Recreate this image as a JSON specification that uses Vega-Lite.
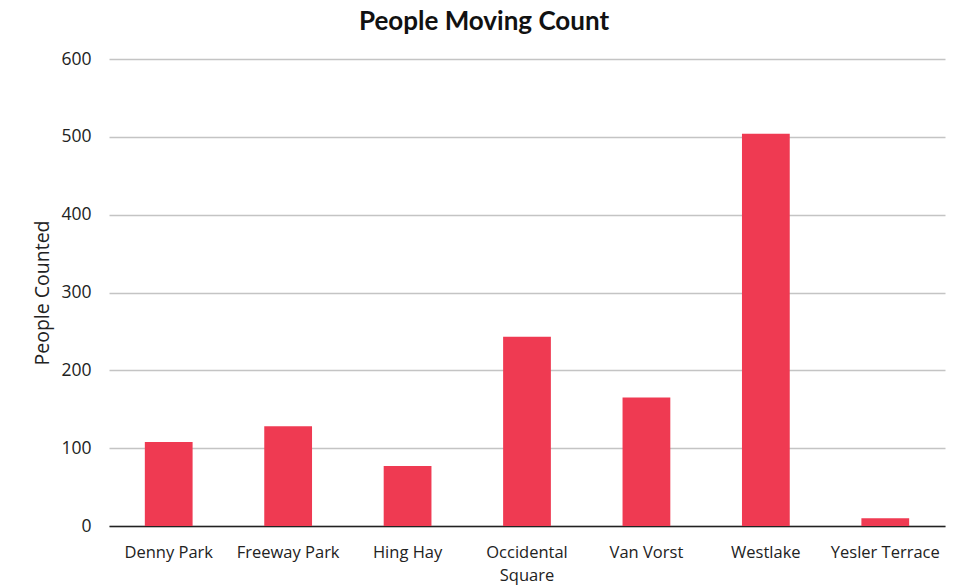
{
  "$schema": "https://vega.github.io/schema/vega-lite/v6.json",
  "width": 836,
  "height": 467,
  "autosize": {"type": "none"},
  "padding": {"left": 109, "top": 59, "right": 13, "bottom": 59},
  "background": "white",
  "title": {
    "text": "People Moving Count",
    "font": "Lato",
    "fontSize": 26,
    "fontWeight": "bold",
    "color": "#111111",
    "anchor": "middle",
    "dx": -43,
    "offset": 15
  },
  "data": {
    "values": [
      {"location": "Denny Park", "count": 108},
      {"location": "Freeway Park", "count": 128},
      {"location": "Hing Hay", "count": 77},
      {"location": "Occidental Square", "count": 243},
      {"location": "Van Vorst", "count": 165},
      {"location": "Westlake", "count": 504},
      {"location": "Yesler Terrace", "count": 10}
    ]
  },
  "mark": {"type": "bar", "color": "#EF3A52"},
  "encoding": {
    "x": {
      "field": "location",
      "type": "nominal",
      "sort": null,
      "scale": {"paddingInner": 0.6, "paddingOuter": 0.3},
      "axis": {
        "title": null,
        "labelAngle": 0,
        "labelFont": "Open Sans",
        "labelFontSize": 16.5,
        "labelColor": "#222222",
        "labelPadding": 18,
        "labelLineHeight": 23,
        "labelExpr": "datum.label == 'Occidental Square' ? ['Occidental', 'Square'] : datum.label",
        "ticks": false,
        "domainColor": "#222222",
        "domainWidth": 1.5,
        "grid": false
      }
    },
    "y": {
      "field": "count",
      "type": "quantitative",
      "scale": {"domain": [0, 600]},
      "axis": {
        "title": "People Counted",
        "titleFont": "Open Sans",
        "titleFontSize": 19.5,
        "titleFontWeight": "normal",
        "titleColor": "#222222",
        "titlePadding": 8,
        "values": [0, 100, 200, 300, 400, 500, 600],
        "labelFont": "Open Sans",
        "labelFontSize": 17.5,
        "labelColor": "#222222",
        "labelPadding": 18,
        "ticks": false,
        "domain": false,
        "grid": true,
        "gridColor": "#c4c4c4",
        "gridWidth": 1.5
      }
    }
  },
  "config": {"view": {"stroke": null}, "title": {"baseline": "alphabetic"}}
}
